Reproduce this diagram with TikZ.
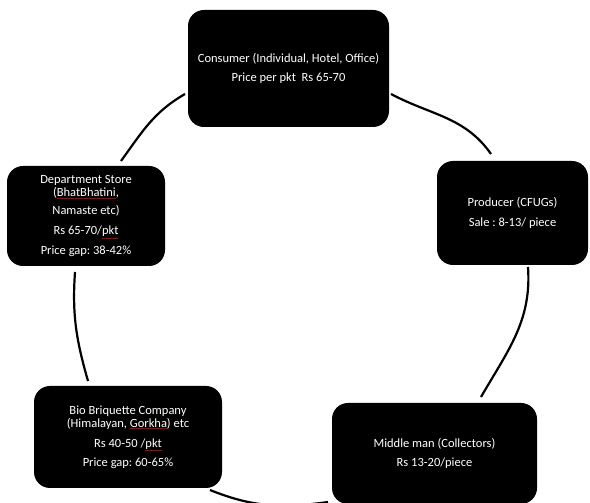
\documentclass[tikz,border=0pt]{standalone}
\usepackage{fontspec}
\setmainfont{Carlito}
\frenchspacing
\newcommand\squig[1]{\textcolor{red!70!black}{\underline{\textcolor{white}{#1}}}}
\begin{document}
\begin{tikzpicture}[x=1pt,y=1pt,
  box/.style={fill=black, rounded corners=16pt, text=white, align=center, inner sep=0pt,
    font=\fontsize{12.5}{12.8}\selectfont},
  cyc/.style={line width=2.2pt, draw=black}]
\clip (0,0) rectangle (590,503);
% arc end points
\coordinate (a1) at (121,342);
\coordinate (a2) at (185,409);
\coordinate (b1) at (391,409);
\coordinate (b2) at (491,349);
\coordinate (c1) at (528,236);
\coordinate (c2) at (481,106);
\coordinate (d1) at (328,1);
\coordinate (d2) at (210,13);
\coordinate (e1) at (88,122);
\coordinate (e2) at (75,231);
% nodes
\node[box, minimum width=201pt, minimum height=117pt] (consumer) at (288.5,434.5)
  {Consumer (Individual, Hotel, Office)\\[6.4pt]Price per pkt\ \ Rs 65-70};
\node[box, minimum width=158pt, minimum height=100pt] (dept) at (86,287)
  {Department Store\\(\squig{BhatBhatini},\\[5.4pt]Namaste etc)\\[7.2pt]Rs 65-70/\squig{pkt}\\[7.2pt]Price gap: 38-42\%};
\node[box, minimum width=151pt, minimum height=104pt] (producer) at (512.5,290)
  {Producer (CFUGs)\\[6.4pt]Sale : 8-13/ piece};
\node[box, minimum width=188pt, minimum height=102pt] (bio) at (128,66)
  {Bio Briquette Company\\(Himalayan, \squig{Gorkha}) etc\\[7.2pt]Rs 40-50 /\squig{pkt}\\[6.2pt]Price gap: 60-65\%};
\node[box, minimum width=205pt, minimum height=101pt] (middle) at (434.5,49.5)
  {Middle man (Collectors)\\[6.4pt]Rs 13-20/piece};
% cycle arcs
\draw[cyc] (a1) to[out=54,in=210] (a2);
\draw[cyc] (b1) to[out=-28,in=125] (b2);
\draw[cyc] (c1) to[out=-86,in=60] (c2);
\draw[cyc] (d1) to[out=188,in=-22] (d2);
\draw[cyc] (e1) to[out=106,in=266] (e2);
\end{tikzpicture}
\end{document}
